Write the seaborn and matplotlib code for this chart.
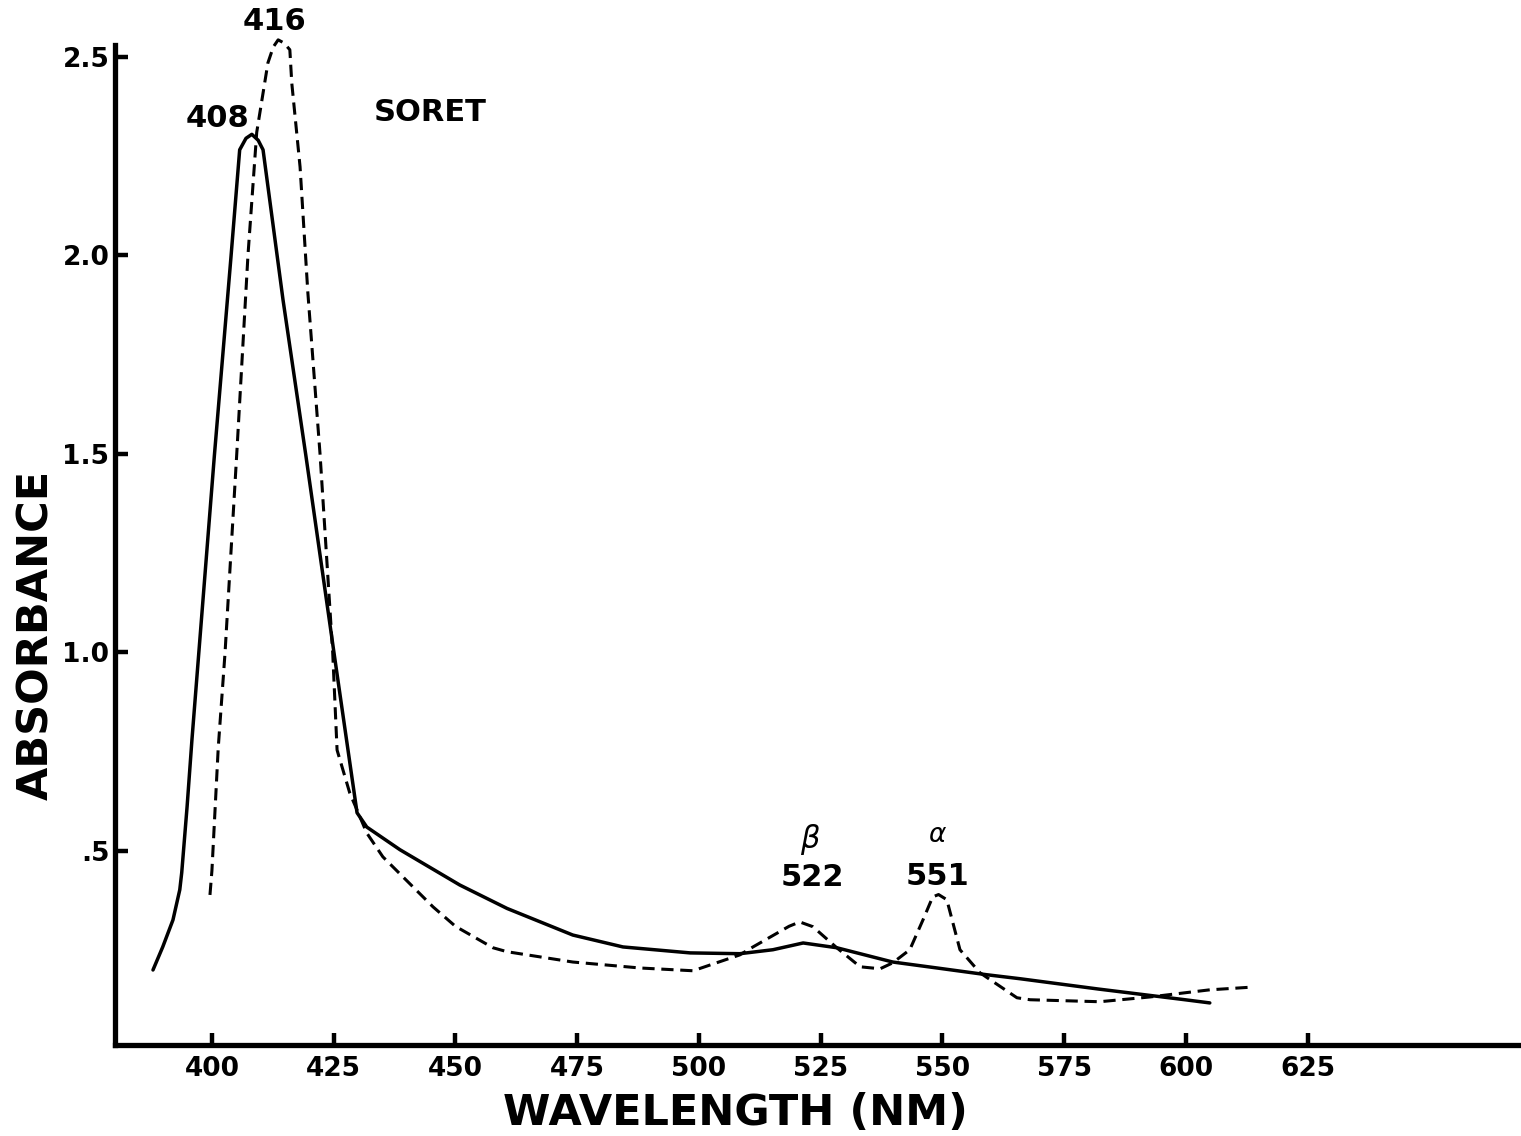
import numpy as np
import pandas as pd
import matplotlib
matplotlib.use("Agg")
import matplotlib.pyplot as plt
import seaborn as sns

# Absorption spectrum (wavelength in nm, absorbance)
solid_nm = [387.9, 389.9, 392.0, 393.4, 393.8, 394.9, 395.9, 400.5, 403.9, 405.7,
            407.0, 408.2, 409.5, 410.5, 414.6, 419.3, 425.1, 429.8, 431.8, 438.6,
            450.9, 460.6, 474.1, 484.4, 498.2, 508.4, 515.2, 521.4, 528.3, 539.8,
            548.9, 559.1, 565.9, 582.0, 599.8, 604.9]
solid_abs = [0.200, 0.258, 0.326, 0.402, 0.445, 0.611, 0.780, 1.495, 1.994, 2.266,
             2.295, 2.305, 2.290, 2.266, 1.888, 1.495, 0.996, 0.596, 0.560, 0.503,
             0.414, 0.355, 0.288, 0.258, 0.243, 0.241, 0.251, 0.268, 0.256, 0.220,
             0.205, 0.188, 0.178, 0.152, 0.125, 0.117]

dashed_nm = [399.6, 400.0, 401.3, 402.7, 405.1, 407.4, 409.2, 411.5, 412.6, 413.6,
             414.8, 416.0, 416.4, 418.1, 419.7, 422.2, 424.8, 425.7, 428.3, 431.8,
             435.1, 445.4, 450.0, 457.7, 460.6, 474.1, 487.9, 498.8, 508.4, 511.1,
             518.5, 520.7, 523.4, 528.3, 533.1, 537.2, 539.8, 543.3, 546.0, 548.0,
             549.2, 550.9, 553.6, 557.7, 565.3, 568.0, 582.3, 592.6, 604.9, 613.8]
dashed_abs = [0.389, 0.450, 0.760, 1.000, 1.500, 2.000, 2.310, 2.485, 2.525, 2.543,
              2.535, 2.518, 2.434, 2.223, 1.906, 1.500, 1.000, 0.754, 0.646, 0.545,
              0.485, 0.359, 0.310, 0.256, 0.246, 0.220, 0.205, 0.198, 0.238, 0.258,
              0.310, 0.321, 0.309, 0.256, 0.208, 0.203, 0.218, 0.251, 0.326, 0.384,
              0.390, 0.377, 0.251, 0.193, 0.130, 0.125, 0.120, 0.132, 0.150, 0.157]

x_ticks = [400, 425, 450, 475, 500, 525, 550, 575, 600, 625]
y_ticks = [0.5, 1.0, 1.5, 2.0, 2.5]
y_tick_labels = [".5", "1.0", "1.5", "2.0", "2.5"]

solid_df = pd.DataFrame({"nm": solid_nm, "abs": solid_abs})
dashed_df = pd.DataFrame({"nm": dashed_nm, "abs": dashed_abs})

sns.set_theme(style="ticks")
plt.rcParams['font.family'] = ['DejaVu Sans']
plt.rcParams['font.weight'] = 'bold'
for key in ['text.color', 'axes.labelcolor', 'xtick.color', 'ytick.color']:
    plt.rcParams[key] = 'black'

fig = plt.figure(figsize=(15.21, 11.36), dpi=100)
ax = fig.add_axes([115 / 1521, 91 / 1136, 1 - 115 / 1521, 1000 / 1136])

sns.lineplot(data=solid_df, x="nm", y="abs", ax=ax, color="black",
             linewidth=2.5, estimator=None, sort=False, clip_on=False)
sns.lineplot(data=dashed_df, x="nm", y="abs", ax=ax, color="black",
             linewidth=2.2, estimator=None, sort=False, clip_on=False,
             linestyle=(0, (4, 2.2)))

ax.set_xlim(380.1, 668.8)
ax.set_ylim(0.011, 2.53)
ax.set_xticks(x_ticks)
ax.set_xticklabels([str(t) for t in x_ticks])
ax.set_yticks(y_ticks)
ax.set_yticklabels(y_tick_labels)

sns.despine(ax=ax)
for side in ["left", "bottom"]:
    ax.spines[side].set_linewidth(3.8)
    ax.spines[side].set_color("black")

ax.tick_params(axis="both", direction="in", length=9, width=3.2,
               labelsize=19)
ax.tick_params(axis="x", pad=8)
ax.tick_params(axis="y", pad=4)
for lab in ax.get_xticklabels() + ax.get_yticklabels():
    lab.set_fontweight("bold")

ax.set_xlabel("WAVELENGTH (NM)", fontsize=31, fontweight="bold")
ax.set_ylabel("ABSORBANCE", fontsize=31, fontweight="bold")
ax.xaxis.set_label_coords(0.441, -0.047)
ax.yaxis.set_label_coords(-0.041, 0.41)

# peak annotations
ax.text(401.2, 2.346, "408", fontsize=22, fontweight="bold", ha="center", va="center")
ax.text(412.9, 2.588, "416", fontsize=22, fontweight="bold", ha="center", va="center")
ax.text(444.8, 2.361, "SORET", fontsize=22, fontweight="bold", ha="center", va="center")
ax.text(522.8, 0.528, "β", fontsize=22, fontweight="normal", style="italic",
        ha="center", va="center")
ax.text(523.2, 0.432, "522", fontsize=22, fontweight="bold", ha="center", va="center")
ax.text(548.9, 0.540, "α", fontsize=19, fontweight="normal", style="italic",
        ha="center", va="center")
ax.text(548.9, 0.435, "551", fontsize=22, fontweight="bold", ha="center", va="center")

fig.savefig("out.png", dpi=100)
